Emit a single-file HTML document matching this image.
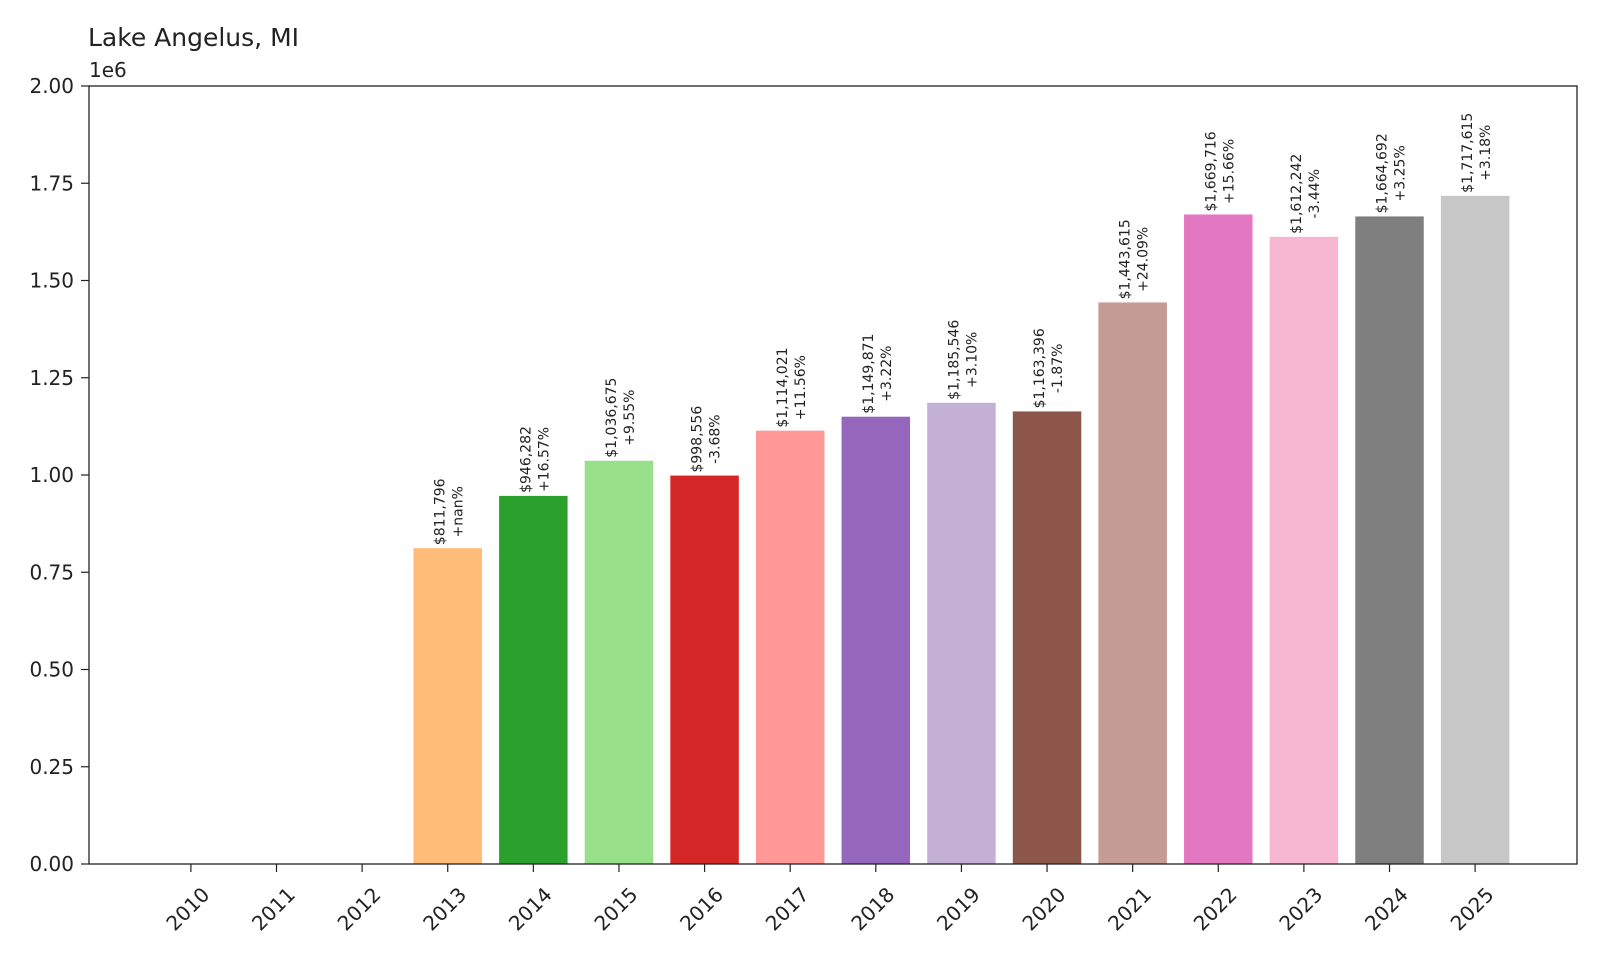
<!DOCTYPE html>
<html><head><meta charset="utf-8"><style>
html,body{margin:0;padding:0;background:#fff;}
svg{display:block;font-family:"DejaVu Sans","Liberation Sans",sans-serif;}
</style></head><body>
<svg id="chart" width="1600" height="960" viewBox="0 0 1600 960">
<text x="88" y="46" font-size="25" fill="#222">Lake Angelus, MI</text>
<text x="89" y="77" font-size="20" fill="#222">1e6</text>
<g id="bars"></g>
<g id="labels"></g>
<g id="yaxis"></g>
<g id="xaxis"></g>
<rect x="89" y="86" width="1488" height="778" fill="none" stroke="#222" stroke-width="1.3"/>
</svg>
<script>
const years = ["2010","2011","2012","2013","2014","2015","2016","2017","2018","2019","2020","2021","2022","2023","2024","2025"];
const values = [0,0,0,811796,946282,1036675,998556,1114021,1149871,1185546,1163396,1443615,1669716,1612242,1664692,1717615];
const changes = ["","","","+nan%","+16.57%","+9.55%","-3.68%","+11.56%","+3.22%","+3.10%","-1.87%","+24.09%","+15.66%","-3.44%","+3.25%","+3.18%"];
const valueLabels = ["","","","$811,796","$946,282","$1,036,675","$998,556","$1,114,021","$1,149,871","$1,185,546","$1,163,396","$1,443,615","$1,669,716","$1,612,242","$1,664,692","$1,717,615"];
const yTicks = [0,0.25,0.5,0.75,1.0,1.25,1.5,1.75,2.0];
const colors = ["#1f77b4","#aec7e8","#ff7f0e","#ffbb78","#2ca02c","#98df8a","#d62728","#ff9896","#9467bd","#c5b0d5","#8c564b","#c49c94","#e377c2","#f7b6d2","#7f7f7f","#c7c7c7"];
const NS="http://www.w3.org/2000/svg";
const X0=89,X1=1577,Y0=864,Y1=86,YMAX=2e6;
const step=(X1-X0)/(years.length-1+2*1.19);
function xPos(i){return X0+step*(i+1.19);}
function yPos(v){return Y0-(v/YMAX)*(Y0-Y1);}
function mk(tag,attrs,parent){const e=document.createElementNS(NS,tag);for(const k in attrs)e.setAttribute(k,attrs[k]);parent.appendChild(e);return e;}
const gb=document.getElementById('bars'),gl=document.getElementById('labels'),gy=document.getElementById('yaxis'),gx=document.getElementById('xaxis');
const bw=step*0.8;
years.forEach((yr,i)=>{
  const top=yPos(values[i]);
  const r=mk('rect',{x:xPos(i)-bw/2,y:top,width:bw,height:Math.max(0,Y0-top),fill:colors[i]},gb);
  
  
  if(valueLabels[i]){
    const cx=xPos(i), by=top-3;
    const t=mk('text',{transform:`translate(${cx},${by}) rotate(-90)`,'font-size':14,fill:'#222','text-anchor':'middle'},gl);
    
    
    const a=mk('tspan',{x:0,y:-3},t);a.textContent=valueLabels[i];
    const b=mk('tspan',{x:0,y:15},t);b.textContent=changes[i];
    const len=a.getComputedTextLength();
    t.setAttribute('transform',`translate(${cx},${by}) rotate(-90) translate(${len/2},0)`);
  }
  const tk=mk('line',{x1:xPos(i),x2:xPos(i),y1:Y0,y2:Y0+8,stroke:'#222','stroke-width':1.2},gx);
  
  
  const xl=mk('text',{transform:`translate(${xPos(i)-2},${910}) rotate(-45)`,'font-size':20,fill:'#222','text-anchor':'middle','dominant-baseline':'middle'},gx);
  
  
  xl.textContent=yr;
});
yTicks.forEach(v=>{
  const y=yPos(v*1e6);
  const tk=mk('line',{x1:X0-8,x2:X0,y1:y,y2:y,stroke:'#222','stroke-width':1.2},gy);
  
  
  const t=mk('text',{x:X0-15,y:y+7,'font-size':20,fill:'#222','text-anchor':'end'},gy);
  
  
  t.textContent=v.toFixed(2);
});
</script>
</body></html>
